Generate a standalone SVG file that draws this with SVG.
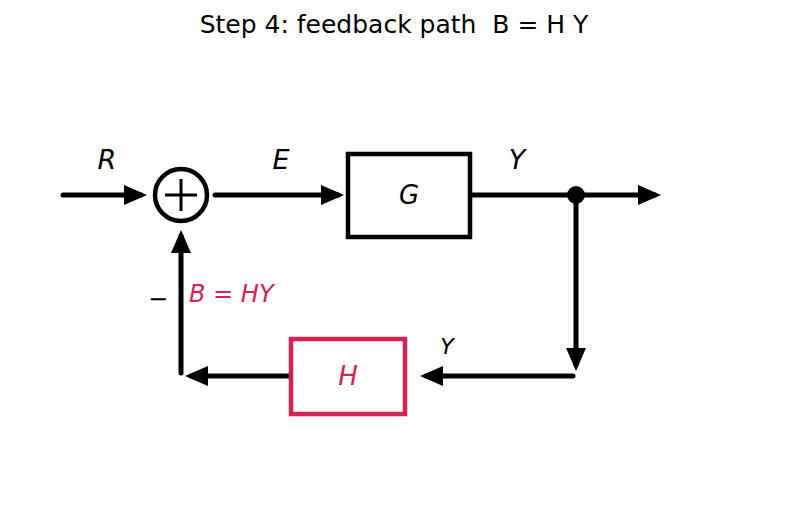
<svg xmlns="http://www.w3.org/2000/svg" width="787" height="511" viewBox="0 0 787 511">
<style>
.w{fill:none;stroke:#000;stroke-width:5;stroke-linecap:round}
.t{font-family:"DejaVu Sans",sans-serif;fill:#000}
.m{font-family:"DejaVu Sans",sans-serif;font-style:italic;text-anchor:middle}
.red{fill:#d42350}
</style>
<defs>
<marker id="ah" markerUnits="userSpaceOnUse" markerWidth="23" markerHeight="20" viewBox="0 0 23 20" refX="17" refY="10" orient="auto">
<path d="M0,0 L23,10 L0,20 z" fill="#000"/>
</marker>
</defs>
<rect width="787" height="511" fill="#fff"/>
<text class="t" x="394" y="33" font-size="25" text-anchor="middle" xml:space="preserve" style="white-space:pre">Step 4: feedback path  B = H Y</text>
<g id="connectors">
<line class="w" x1="63" y1="195" x2="141" y2="195" marker-end="url(#ah)"/>
<line class="w" x1="215" y1="195" x2="338" y2="195" marker-end="url(#ah)"/>
<line class="w" x1="470" y1="195" x2="655" y2="195" marker-end="url(#ah)"/>
<line class="w" x1="576" y1="195" x2="576" y2="365" marker-end="url(#ah)"/>
<line class="w" x1="573" y1="376" x2="426" y2="376" marker-end="url(#ah)"/>
<line class="w" x1="291" y1="376" x2="191" y2="376" marker-end="url(#ah)"/>
<line class="w" x1="181" y1="373" x2="181" y2="236" marker-end="url(#ah)"/>
<circle cx="576" cy="195" r="9" fill="#000"/>
</g>
<g id="sum">
<circle cx="181" cy="195" r="26" fill="#fff" stroke="#000" stroke-width="4.5"/>
<line x1="165" y1="195" x2="197" y2="195" stroke="#000" stroke-width="3"/>
<line x1="181" y1="179" x2="181" y2="211" stroke="#000" stroke-width="3"/>
</g>
<g id="G">
<rect x="348" y="154" width="122" height="83" fill="#fff" stroke="#000" stroke-width="4.5"/>
<text class="m" x="409" y="204" font-size="26">G</text>
</g>
<g id="H">
<rect x="291" y="339" width="114" height="75" fill="#fff" stroke="#d42350" stroke-width="4.5"/>
<text class="m red" x="348" y="385" font-size="26">H</text>
</g>
<g id="labels">
<text class="m" x="107" y="169" font-size="27">R</text>
<text class="m" x="281" y="169" font-size="27">E</text>
<text class="m" x="517" y="169" font-size="27">Y</text>
<text class="m" x="447" y="354" font-size="22">Y</text>
<text class="t" x="158" y="307" font-size="24" text-anchor="middle">−</text>
<text class="red" x="189" y="302" font-size="24" font-family="DejaVu Sans,sans-serif"><tspan font-style="italic">B</tspan> = <tspan font-style="italic">HY</tspan></text>
</g>
</svg>
